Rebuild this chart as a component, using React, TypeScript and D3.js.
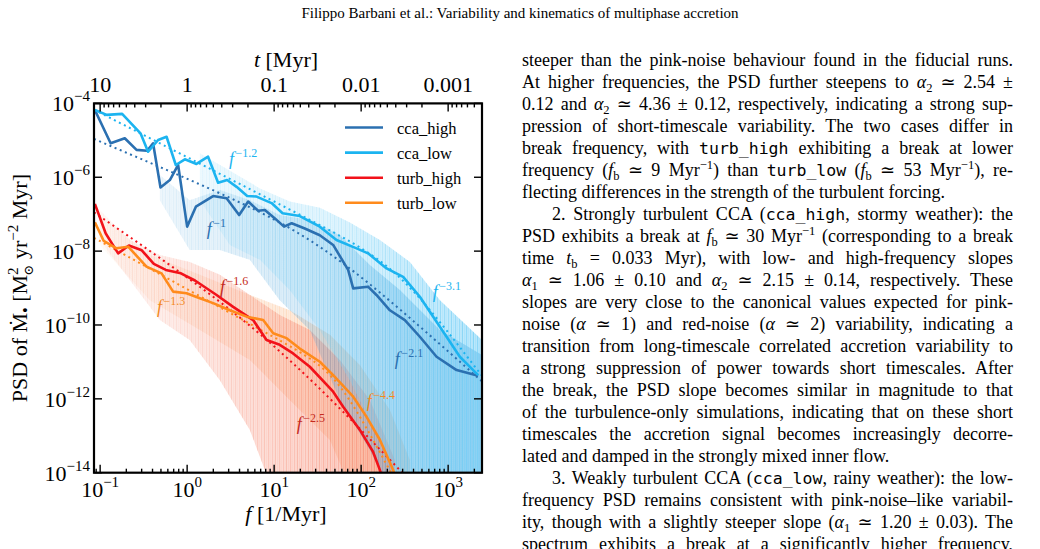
import React, { useEffect, useRef } from 'react';
import { scaleLog, line, area, select, range } from 'd3';

// frequency [1/Myr] and PSD [Msun^2 yr^-2 Myr] ranges of the panel
const fDomain = [0.085, 2450];
const psdDomain = [1e-14, 1e-4];

const seriesNames = ['cca_high', 'cca_low', 'turb_high', 'turb_low'];
const lineColors = ['#2b70b1', '#1cb4f0', '#f2121a', '#ff8b1c'];
const noteColors = ['#2b70b1', '#1cb4f0', '#c42a20', '#f2891e'];
const rawColors = ['#4fa6dc', '#7fd3f7', '#f7957f', '#fcc69c'];

// binned spectra
const ccaHighF = [0.087, 0.132, 0.192, 0.262, 0.347, 0.406, 0.494, 0.633, 0.788, 1.0, 1.26, 1.99, 2.84, 3.96, 5.03, 6.55, 7.82, 10.2, 13.0, 15.9, 22.5, 33.5, 47.7, 70.9, 81, 120, 150, 214, 318, 473, 736, 1250, 2213];
const ccaHighP = [6.6e-5, 8.3e-6, 1.14e-5, 5.5e-6, 5.2e-6, 8.3e-6, 5.3e-7, 8.4e-7, 2.15e-6, 4.6e-8, 1.6e-7, 3.1e-7, 2.7e-7, 9.5e-8, 2.2e-7, 1.24e-7, 1.3e-7, 7.7e-8, 4.6e-8, 5.7e-8, 4.1e-8, 2.7e-8, 1.47e-8, 3.1e-9, 9.8e-10, 1.09e-9, 6.5e-10, 2.5e-10, 1.36e-10, 4.8e-11, 1.38e-11, 6.0e-12, 4.2e-12];

const ccaLowF = [0.087, 0.119, 0.179, 0.291, 0.356, 0.464, 0.58, 0.741, 0.941, 1.28, 1.74, 2.27, 2.88, 3.7, 4.9, 6.28, 9.34, 12.5, 19.7, 33.5, 52.1, 88.5, 120, 196, 304, 473, 673, 959, 1362, 2213];
const ccaLowP = [6.6e-5, 4.9e-5, 5.2e-5, 1.55e-5, 4.9e-6, 1.02e-5, 1.25e-5, 2.15e-6, 3.06e-6, 2.29e-6, 3.6e-6, 7.1e-7, 8.4e-7, 5.5e-7, 3.1e-7, 3.0e-7, 2.0e-7, 1.06e-7, 8.9e-8, 4.6e-8, 2.0e-8, 1.19e-8, 8.7e-9, 3.4e-9, 2.0e-9, 5.8e-10, 1.67e-10, 4.8e-11, 1.38e-11, 4.4e-12];

const turbHighF = [0.087, 0.116, 0.161, 0.214, 0.301, 0.414, 0.569, 0.847, 1.23, 2.18, 3.38, 5.74, 8.18, 11.6, 16.5, 25.7, 47.7, 62.1, 96.6, 137, 164, 200];
const turbHighP = [1.9e-7, 3.0e-8, 8.7e-9, 1.42e-8, 1.05e-8, 4.5e-9, 3.1e-9, 2.5e-9, 1.6e-9, 6.5e-10, 3.1e-10, 1.36e-10, 3.9e-11, 2.9e-11, 1.7e-11, 7.4e-12, 1.56e-12, 6.1e-13, 1.44e-13, 3.7e-14, 1.19e-14, 3e-15];

const turbLowF = [0.087, 0.11, 0.154, 0.21, 0.341, 0.508, 0.69, 0.984, 1.4, 1.99, 3.1, 4.82, 7.48, 9.75, 13.9, 19.7, 33.5, 47.7, 81, 115, 164, 233, 264];
const turbLowP = [6.0e-8, 1.88e-8, 1.19e-8, 1.32e-8, 3.8e-9, 2.5e-9, 8.0e-10, 7.2e-10, 5.3e-10, 3.9e-10, 2.5e-10, 1.68e-10, 1.36e-10, 6.0e-11, 4.4e-11, 2.3e-11, 1.01e-11, 4.4e-12, 1.14e-12, 3.3e-13, 7.8e-14, 1.2e-14, 4.7e-15];

// spread of the unbinned periodograms (upper / lower envelope)
const ccaHighRawF = [0.486, 1.07, 2.38, 5.26, 11.6, 25.7, 56.9, 126, 279, 804, 2450];
const ccaHighRawHi = [1.15e-6, 2.4e-7, 4.5e-7, 2.4e-7, 9.5e-8, 7.0e-8, 2.7e-8, 4.2e-9, 8.9e-10, 7.3e-11, 1.54e-11];
const ccaHighRawLo = [2.4e-7, 1.07e-8, 1.07e-8, 5.8e-9, 4.7e-10, 7.3e-11, 9.3e-13, 4.1e-14, 1e-15, 1e-15, 1e-15];

const ccaLowRawF = [1.4, 3.1, 6.86, 15.1, 33.5, 74.1, 164, 363, 804, 2450];
const ccaLowRawHi = [4.5e-6, 1.5e-6, 5.0e-7, 2.2e-7, 1.5e-7, 6.0e-8, 2.0e-8, 5.1e-9, 4.7e-10, 3.9e-11];
const ccaLowRawLo = [2.4e-7, 1.47e-8, 5.8e-9, 8.9e-10, 7.3e-11, 3.2e-12, 7.7e-14, 1e-15, 1e-15, 1e-15];

const turbHighRawF = [0.099, 0.219, 0.486, 1.07, 2.38, 5.26, 11.6, 25.7, 56.9, 126, 244];
const turbHighRawHi = [1.3e-7, 2.0e-8, 7.9e-9, 5.1e-9, 2.3e-9, 6.5e-10, 1.86e-10, 7.3e-11, 1.13e-11, 9.3e-13, 2.2e-14];
const turbHighRawLo = [2.0e-8, 1.65e-9, 1.36e-10, 3.9e-11, 3.2e-12, 1.43e-13, 1e-15, 1e-15, 1e-15, 1e-15, 1e-15];

const turbLowRawF = [0.099, 0.373, 1.4, 5.26, 15.1, 43.7, 96.6, 214, 363];
const turbLowRawHi = [9.5e-8, 7.9e-9, 2.3e-9, 6.5e-10, 2.5e-10, 5.4e-11, 8.2e-12, 5.0e-13, 2.2e-14];
const turbLowRawLo = [1.47e-8, 4.7e-10, 7.3e-11, 1.13e-11, 9.3e-13, 7.7e-14, 1e-15, 1e-15, 1e-15];

// broken power-law fits: P = N f^-a1 / (1 + (f/fb)^(a2-a1))
const fitNorm = [9.3e-7, 3.5e-6, 2.2e-9, 9.3e-10];
const fitAlpha1 = [1.0, 1.2, 1.6, 1.3];
const fitAlpha2 = [2.1, 3.1, 2.5, 4.4];
const fitBreak = [30, 260, 9, 53];

// where the slope notes sit (data coordinates)
const lowSlopeAt = [[1.68, 2.73e-8], [3.03, 2.15e-6], [2.38, 7.3e-10], [0.449, 2.1e-10]];
const highSlopeAt = [[244, 8.2e-12], [667, 5.4e-10], [18.2, 1.43e-13], [116, 6.0e-13]];

const fTickExp = [-1, 0, 1, 2, 3];
const tTicks = [10, 1, 0.1, 0.01, 0.001];
const tTickLabels = ['10', '1', '0.1', '0.01', '0.001'];
const psdTickExp = [-4, -6, -8, -10, -12, -14];

const header = 'Filippo Barbani et al.: Variability and kinematics of multiphase accretion';

// |i:..| italic, |m:..| typewriter, |_:..| subscript, |^:..| superscript
const bodyText = [
  'steeper than the pink-noise behaviour found in the fiducial runs.',
  'At higher frequencies, the PSD further steepens to |i:α|_:2| ≃ 2.54 ±',
  '0.12 and |i:α|_:2| ≃ 4.36 ± 0.12, respectively, indicating a strong sup-',
  'pression of short-timescale variability. The two cases differ in',
  'break frequency, with |m:turb_high| exhibiting a break at lower',
  'frequency (|i:f|_:b| ≃ 9 Myr|^:−1|) than |m:turb_low| (|i:f|_:b| ≃ 53 Myr|^:−1|), re-',
  'flecting differences in the strength of the turbulent forcing.',
  '2. Strongly turbulent CCA (|m:cca_high|, stormy weather): the',
  'PSD exhibits a break at |i:f|_:b| ≃ 30 Myr|^:−1| (corresponding to a break',
  'time |i:t|_:b| = 0.033 Myr), with low- and high-frequency slopes',
  '|i:α|_:1| ≃ 1.06 ± 0.10 and |i:α|_:2| ≃ 2.15 ± 0.14, respectively. These',
  'slopes are very close to the canonical values expected for pink-',
  'noise (|i:α| ≃ 1) and red-noise (|i:α| ≃ 2) variability, indicating a',
  'transition from long-timescale correlated accretion variability to',
  'a strong suppression of power towards short timescales. After',
  'the break, the PSD slope becomes similar in magnitude to that',
  'of the turbulence-only simulations, indicating that on these short',
  'timescales the accretion signal becomes increasingly decorre-',
  'lated and damped in the strongly mixed inner flow.',
  '3. Weakly turbulent CCA (|m:cca_low|, rainy weather): the low-',
  'frequency PSD remains consistent with pink-noise–like variabil-',
  'ity, though with a slightly steeper slope (|i:α|_:1| ≃ 1.20 ± 0.03). The',
  'spectrum exhibits a break at a significantly higher frequency,',
];
const paraStart = new Set([7, 19]);
const paraEnd = new Set([6, 18]);

const serif = '"Liberation Serif", "DejaVu Serif", serif';

const zip = (f: number[], p: number[]) => f.map((v, i) => [v, p[i]] as [number, number]);

function parseLine(s: string) {
  return s.split('|').filter(p => p.length).map(p => {
    const m = /^([mi_^]):(.*)$/.exec(p);
    return m ? { k: m[1], t: m[2] } : { k: '', t: p };
  });
}

// hairline texture used for the periodogram spread: [x, width, opacity]
const hair = [[0, 1.0, 0.9], [2.2, 0.7, 0.45], [3.9, 1.3, 0.8], [6.3, 0.6, 0.35], [8.0, 1.0, 0.7], [9.8, 0.5, 0.4]];

const App = () => {
  const bodyRef = useRef<SVGGElement>(null);

  // plot frame
  const L = 94, R = 482, T = 103.4, B = 472.7;
  const x = scaleLog().domain(fDomain).range([L, R]);
  const y = scaleLog().domain(psdDomain).range([B, T]);
  const xt = scaleLog().domain([1 / fDomain[0], 1 / fDomain[1]]).range([L, R]);

  const binned = [zip(ccaHighF, ccaHighP), zip(ccaLowF, ccaLowP), zip(turbHighF, turbHighP), zip(turbLowF, turbLowP)];
  const raw = [
    ccaHighRawF.map((f, i) => ({ f, hi: ccaHighRawHi[i], lo: ccaHighRawLo[i] })),
    ccaLowRawF.map((f, i) => ({ f, hi: ccaLowRawHi[i], lo: ccaLowRawLo[i] })),
    turbHighRawF.map((f, i) => ({ f, hi: turbHighRawHi[i], lo: turbHighRawLo[i] })),
    turbLowRawF.map((f, i) => ({ f, hi: turbLowRawHi[i], lo: turbLowRawLo[i] })),
  ];

  const pathOf = line<[number, number]>().x(d => x(d[0])).y(d => y(d[1]));
  const bandOf = area<{ f: number; hi: number; lo: number }>()
    .x(d => x(d.f)).y0(d => y(d.lo)).y1(d => y(d.hi));

  const logF = range(Math.log10(fDomain[0]), Math.log10(fDomain[1]) + 0.02, 0.02);
  const fits = fitNorm.map((n, i) =>
    logF.map(lf => {
      const f = Math.pow(10, lf);
      return [f, n * Math.pow(f, -fitAlpha1[i]) / (1 + Math.pow(f / fitBreak[i], fitAlpha2[i] - fitAlpha1[i]))] as [number, number];
    }));

  const fMinor: number[] = [];
  for (let n = -2; n <= 3; n++) for (let k = 2; k <= 9; k++) {
    const v = k * Math.pow(10, n);
    if (v >= fDomain[0] && v <= fDomain[1]) fMinor.push(v);
  }
  const tMinor: number[] = [];
  for (let n = -4; n <= 1; n++) for (let k = 2; k <= 9; k++) {
    const v = k * Math.pow(10, n);
    if (v <= 1 / fDomain[0] && v >= 1 / fDomain[1]) tMinor.push(v);
  }

  // justify the text column by adjusting the word spacing
  useEffect(() => {
    select(bodyRef.current).selectAll<SVGTextElement, unknown>('text.just').each(function () {
      const target = +(this.getAttribute('data-w') || 0);
      const spaces = (this.textContent || '').split(' ').length - 1;
      const w = this.getComputedTextLength();
      if (spaces > 0) this.setAttribute('word-spacing', ((target - w) / spaces).toFixed(3));
    });
  }, []);

  const bodyLeft = 522, bodyRight = 1013, indent = 30;
  const bodyBase = 65.5, bodyLead = 22, bodySize = 18;

  const slopeNote = (i: number, at: number[], a: number, key: string) => (
    <text key={key} x={x(at[0])} y={y(at[1])} fill={noteColors[i]} fontFamily={serif}>
      <tspan fontStyle="italic" fontSize={18}>f</tspan>
      <tspan dx={1.5} dy={-8} fontSize={12}>{'−' + a}</tspan>
    </text>
  );

  // the periodogram spread gets denser towards high frequency
  const masks = [
    { id: 'fade-cca', x2: R, stops: ['#151515', '#6a6a6a', '#fff'] },
    { id: 'fade-turb', x2: 400, stops: ['#1c1c1c', '#999', '#fff'] },
  ];

  return (
    <svg width={1040} height={549} style={{ position: 'absolute', left: 0, top: 0, background: '#fff' }} fontFamily={serif}>
      <defs>
        <clipPath id="plot-area"><rect x={L} y={T} width={R - L} height={B - T} /></clipPath>
        {masks.map(m => (
          <React.Fragment key={m.id}>
            <linearGradient id={m.id + '-g'} gradientUnits="userSpaceOnUse" x1={L} x2={m.x2} y1={0} y2={0}>
              <stop offset="0" stopColor={m.stops[0]} />
              <stop offset="0.6" stopColor={m.stops[1]} />
              <stop offset="1" stopColor={m.stops[2]} />
            </linearGradient>
            <mask id={m.id} maskUnits="userSpaceOnUse" x={0} y={0} width={1040} height={549}>
              <rect x={L} y={T} width={R - L} height={B - T} fill={`url(#${m.id}-g)`} />
            </mask>
          </React.Fragment>
        ))}
        {rawColors.map((c, i) => (
          <pattern key={i} id={`spikes-${i}`} patternUnits="userSpaceOnUse" width={11} height={20}>
            {hair.map((h, j) => (
              <rect key={j} x={h[0]} y={0} width={h[1]} height={20} fill={c} fillOpacity={h[2]} />
            ))}
          </pattern>
        ))}
      </defs>

      <text x={520} y={18} textAnchor="middle" fontSize={15}>{header}</text>

      <g clipPath="url(#plot-area)">
        {[3, 2, 0, 1].map(i => (
          <g key={'raw' + i} mask={`url(#${i < 2 ? 'fade-cca' : 'fade-turb'})`}>
            <path d={bandOf(raw[i]) || ''} fill={rawColors[i]} fillOpacity={0.55} />
            <path d={bandOf(raw[i]) || ''} fill={`url(#spikes-${i})`} />
          </g>
        ))}
        {fits.map((d, i) => (
          <path key={'fit' + i} d={pathOf(d) || ''} fill="none" stroke={lineColors[i]}
            strokeWidth={2} strokeDasharray="2 3.6" />
        ))}
        {binned.map((d, i) => (
          <path key={'bin' + i} d={pathOf(d) || ''} fill="none" stroke={lineColors[i]}
            strokeWidth={2.6} strokeLinejoin="round" />
        ))}
      </g>

      {fitAlpha1.map((a, i) => slopeNote(i, lowSlopeAt[i], a, 'lo' + i))}
      {fitAlpha2.map((a, i) => slopeNote(i, highSlopeAt[i], a, 'hi' + i))}

      {/* frame and ticks */}
      <rect x={L} y={T} width={R - L} height={B - T} fill="none" stroke="#000" strokeWidth={2.2} />
      <g stroke="#000" strokeWidth={1.4}>
        {fTickExp.map(e => <line key={'fM' + e} x1={x(10 ** e)} x2={x(10 ** e)} y1={B} y2={B - 8} />)}
        {fMinor.map(v => <line key={'fm' + v} x1={x(v)} x2={x(v)} y1={B} y2={B - 4} />)}
        {tTicks.map(v => <line key={'tM' + v} x1={xt(v)} x2={xt(v)} y1={T} y2={T + 8} />)}
        {tMinor.map(v => <line key={'tm' + v} x1={xt(v)} x2={xt(v)} y1={T} y2={T + 4} />)}
        {psdTickExp.map(e => (
          <g key={'p' + e}>
            <line x1={L} x2={L + 8} y1={y(10 ** e)} y2={y(10 ** e)} />
            <line x1={R} x2={R - 8} y1={y(10 ** e)} y2={y(10 ** e)} />
          </g>
        ))}
      </g>

      <g fontSize={22}>
        {fTickExp.map(e => (
          <text key={'fl' + e} x={x(10 ** e)} y={497} textAnchor="middle">
            10<tspan dy={-10} fontSize={15}>{e < 0 ? '−' + -e : String(e)}</tspan>
          </text>
        ))}
        {tTicks.map((v, i) => (
          <text key={'tl' + v} x={xt(v)} y={92} textAnchor="middle">{tTickLabels[i]}</text>
        ))}
        {psdTickExp.map(e => (
          <text key={'pl' + e} x={90} y={y(10 ** e) + 8} textAnchor="end">
            10<tspan dy={-10} fontSize={15}>{'−' + -e}</tspan>
          </text>
        ))}
        <text x={286} y={67} textAnchor="middle"><tspan fontStyle="italic">t</tspan> [Myr]</text>
        <text x={286} y={521} textAnchor="middle"><tspan fontStyle="italic">f</tspan> [1/Myr]</text>
        <text transform={`translate(27,${(T + B) / 2}) rotate(-90)`} textAnchor="middle">
          PSD of Ṁ<tspan dy={4} fontSize={16}>•</tspan>
          <tspan dy={-4}> [M</tspan>
          <tspan dy={-9} fontSize={15}>2</tspan>
          <tspan dx={-8} dy={15} fontSize={13}>⊙</tspan>
          <tspan dy={-6}> yr</tspan>
          <tspan dy={-9} fontSize={15}>−2</tspan>
          <tspan dy={9}> Myr]</tspan>
        </text>
      </g>

      {/* legend */}
      <g fontSize={16.5}>
        {seriesNames.map((s, i) => (
          <g key={s} transform={`translate(0,${127.5 + 25.1 * i})`}>
            <line x1={345} x2={383} y1={0} y2={0} stroke={lineColors[i]} strokeWidth={2.6} />
            <text x={397} y={6}>{s}</text>
          </g>
        ))}
      </g>

      {/* text column */}
      <g ref={bodyRef} fontSize={bodySize}>
        {bodyText.map((ln, i) => {
          const x0 = bodyLeft + (paraStart.has(i) ? indent : 0);
          let shift = 0;
          const segs = parseLine(ln).map((sg, j) => {
            const target = sg.k === '_' ? 4.5 : sg.k === '^' ? -7 : 0;
            const dy = target - shift;
            shift = target;
            const p: any = { key: j };
            if (dy) p.dy = dy;
            if (sg.k === 'm') { p.fontFamily = '"DejaVu Sans Mono", monospace'; p.fontSize = 16.5; }
            if (sg.k === 'i') p.fontStyle = 'italic';
            if (sg.k === '_' || sg.k === '^') p.fontSize = 12.5;
            return <tspan {...p}>{sg.t}</tspan>;
          });
          return (
            <text key={i} className={paraEnd.has(i) ? '' : 'just'} data-w={bodyRight - x0}
              x={x0} y={bodyBase + bodyLead * i} style={{ whiteSpace: 'pre' }}>
              {segs}
            </text>
          );
        })}
      </g>
    </svg>
  );
};

export default App;
